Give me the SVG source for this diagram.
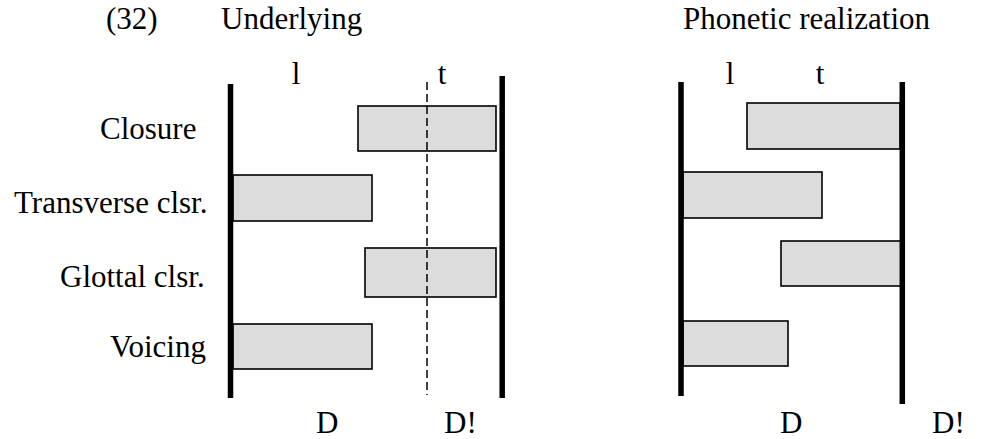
<svg xmlns="http://www.w3.org/2000/svg" width="989" height="439" viewBox="0 0 989 439">
<style>
text { font-family: "Liberation Serif", "Times New Roman", serif; font-size: 31px; fill: #000; }
.bar { stroke: #000; stroke-width: 5.5; fill: none; }
.box { fill: #dcdcdc; stroke: #000; stroke-width: 1.6; }
.dash { stroke: #000; stroke-width: 1.5; stroke-dasharray: 8 4; fill: none; }
</style>
<rect x="0" y="0" width="989" height="439" fill="#fff"/>
<g id="titles">
<text x="106" y="29">(32)</text>
<text x="221" y="29">Underlying</text>
<text x="683" y="29">Phonetic realization</text>
</g>
<g id="row-labels">
<text x="100" y="139">Closure</text>
<text x="14" y="213">Transverse clsr.</text>
<text x="60" y="287">Glottal clsr.</text>
<text x="110" y="357">Voicing</text>
</g>
<g id="underlying">
<g id="u-boxes">
<rect class="box" x="358" y="106" width="138" height="45"/>
<rect class="box" x="233" y="175" width="139" height="46"/>
<rect class="box" x="365" y="248" width="131" height="49"/>
<rect class="box" x="233" y="324" width="139" height="45"/>
</g>
<g id="u-lines">
<line class="bar" x1="230.5" y1="84" x2="230.5" y2="398"/>
<line class="bar" x1="502.2" y1="76" x2="502.2" y2="398"/>
<line class="dash" x1="427" y1="82" x2="427" y2="395"/>
</g>
<g id="u-labels">
<text x="296" y="84" text-anchor="middle">l</text>
<text x="442" y="84" text-anchor="middle">t</text>
<text x="316" y="433">D</text>
<text x="444" y="433">D!</text>
</g>
</g>
<g id="phonetic">
<g id="p-boxes">
<rect class="box" x="747" y="103" width="153" height="46"/>
<rect class="box" x="683" y="172" width="139" height="46"/>
<rect class="box" x="781" y="241" width="120" height="45"/>
<rect class="box" x="683" y="321" width="105" height="45"/>
</g>
<g id="p-lines">
<line class="bar" x1="681" y1="82" x2="681" y2="396"/>
<line class="bar" x1="902.3" y1="82" x2="902.3" y2="404"/>
</g>
<g id="p-labels">
<text x="730" y="84" text-anchor="middle">l</text>
<text x="820" y="84" text-anchor="middle">t</text>
<text x="780" y="433">D</text>
<text x="932" y="433">D!</text>
</g>
</g>
</svg>
